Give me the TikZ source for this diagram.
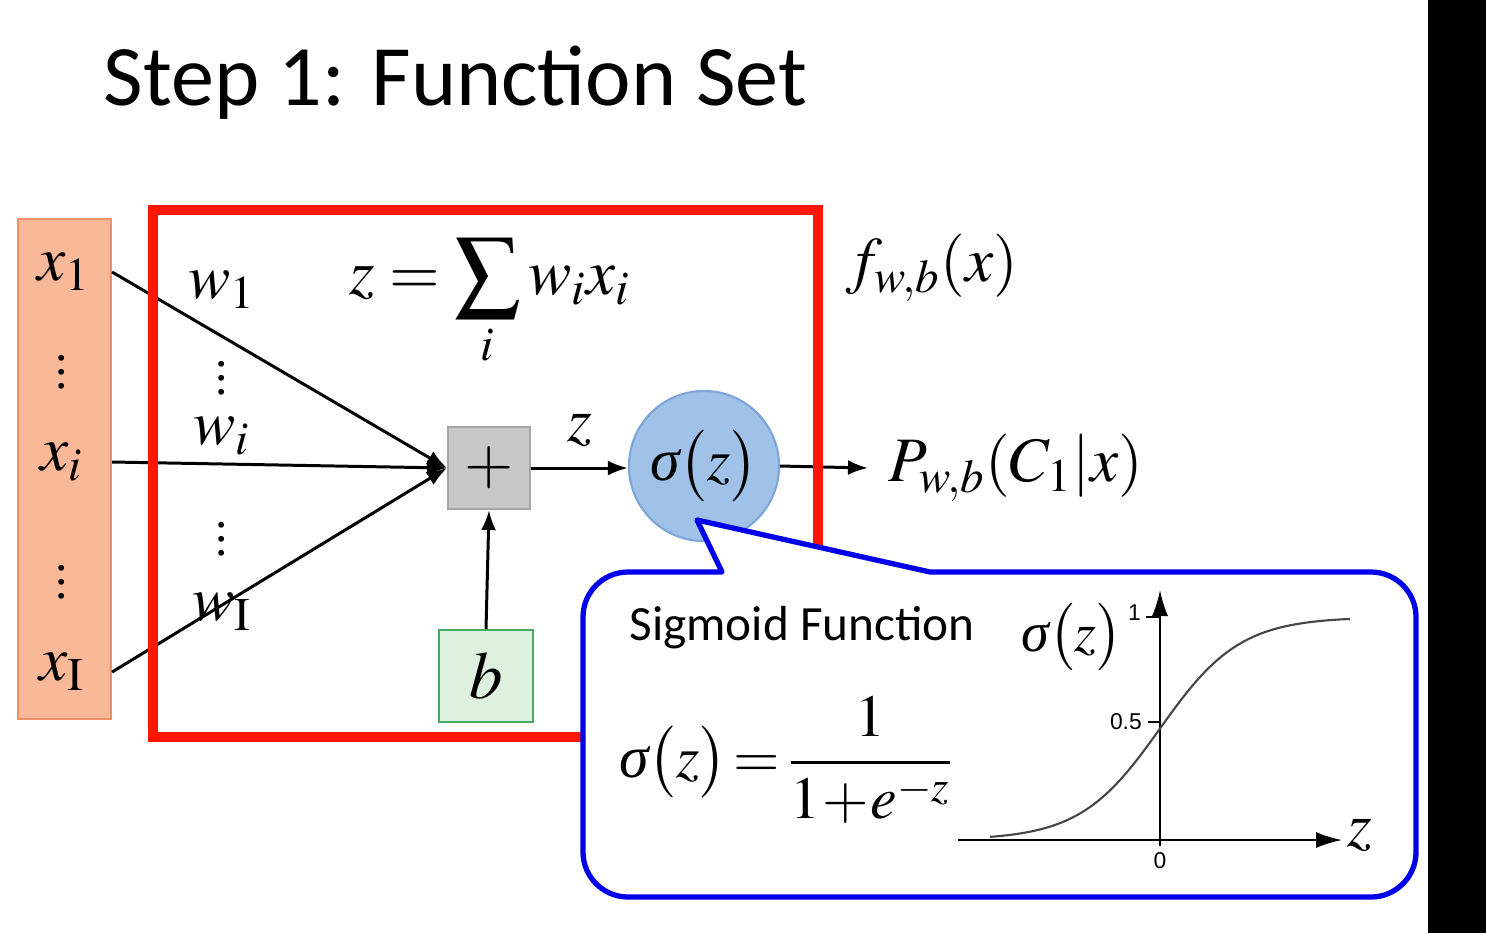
\documentclass[tikz,border=0pt]{standalone}
\usepackage{amsmath}
\usepackage{mathptmx}
\usepackage[no-math]{fontspec}
\setmainfont{Liberation Serif}
\newfontfamily\slidefont{Carlito}
\newfontfamily\plotfont{Liberation Sans}
\usetikzlibrary{positioning, arrows.meta, shapes.geometric, calc}

\definecolor{inorange}{RGB}{249,185,152}
\definecolor{inedge}{RGB}{238,145,105}
\definecolor{boxred}{RGB}{255,22,0}
\definecolor{sumgray}{RGB}{200,200,200}
\definecolor{sumedge}{RGB}{165,165,165}
\definecolor{sigblue}{RGB}{160,194,232}
\definecolor{sigedge}{RGB}{125,165,215}
\definecolor{biasgreen}{RGB}{222,240,222}
\definecolor{biasedge}{RGB}{70,170,95}
\definecolor{callblue}{RGB}{0,0,235}
\definecolor{curvegray}{RGB}{70,70,70}

% italic sigma from the text font
\newcommand{\sigit}{\text{\normalfont\itshape σ}}

\begin{document}
\begin{tikzpicture}[
    x=0.01cm, y=-0.01cm,
    >=Latex,
    lbl/.style={font=\fontsize{18}{20}\selectfont, inner sep=0pt},
    vdot/.style={font=\fontsize{14}{14}\selectfont, inner sep=0pt},
    title/.style={font=\slidefont\fontsize{24.5}{28}\selectfont, inner sep=0pt},
    caption/.style={font=\slidefont\fontsize{14}{17}\selectfont, inner sep=0pt},
    ticklbl/.style={font=\plotfont\fontsize{6.5}{8}\selectfont, inner sep=1pt},
    inbox/.style={rectangle, draw=inedge, fill=inorange, line width=0.6pt,
        minimum width=0.93cm, minimum height=5cm},
    sumbox/.style={rectangle, draw=sumedge, fill=sumgray, line width=0.6pt,
        minimum size=0.82cm, inner sep=0pt, font=\fontsize{18}{20}\selectfont},
    sigcircle/.style={circle, draw=sigedge, fill=sigblue, line width=0.6pt,
        minimum size=1.5cm, inner sep=0pt, font=\fontsize{17}{20}\selectfont},
    biasbox/.style={rectangle, draw=biasedge, fill=biasgreen, line width=0.6pt,
        minimum width=0.94cm, minimum height=0.92cm, font=\fontsize{19}{22}\selectfont},
    arrow/.style={-{Latex[length=2mm, width=1.5mm]}, line width=0.85pt},
    callout/.style={draw=callblue, fill=white, line width=1.5pt, line join=round},
    axis/.style={-{Latex[length=2.6mm, width=1.6mm]}, line width=0.6pt}
]

% page
\fill[white] (0,0) rectangle (1486,933);
\useasboundingbox (0,0) rectangle (1486,933);
\fill[black] (1428,0) rectangle (1486,933);

\node[title, anchor=base west] (title) at (103,105) {Step 1: Function Set};

% inputs
\node[inbox] (in) at (64.5,469) {};
\node[lbl] (x1) at (64,272) {$x_1$};
\node[vdot] (xd1) at (62,362) {$\vdots$};
\node[lbl] (xi) at (62,462) {$x_i$};
\node[vdot] (xd2) at (62,572) {$\vdots$};
\node[lbl] (xI) at (62,672) {$x_{\mathrm{I}}$};

% neuron
\node[sumbox] (plus) at (489,468) {$+$};
\node[sigcircle] (sig) at (704,466) {$\sigit\bigl(z\bigr)$};
\node[biasbox] (bias) at (486,676) {$b$};
\node[lbl, font=\fontsize{18.5}{20}\selectfont] (zsum) at (490,303) {$z=\displaystyle\sum_i w_i x_i$};

\node[lbl] (w1) at (222,290) {$w_1$};
\node[vdot] (wd1) at (222,368) {$\vdots$};
\node[lbl] (wi) at (222,436) {$w_i$};
\node[vdot] (wd2) at (222,529) {$\vdots$};
\node[lbl] (wI) at (222,612) {$w_{\mathrm{I}}$};

\node[lbl] (fwb) at (932,268) {$f_{w,b}(x)$};
\node[lbl, anchor=west] (pout) at (888,468) {$P_{w,b}(C_1|x)$};

\draw[arrow] (x1 -| in.east) -- (plus.west);
\draw[arrow] (xi -| in.east) -- (plus.west);
\draw[arrow] (xI -| in.east) -- (plus.west);
\draw[arrow] (plus.east) -- node[lbl, above=0.2cm] (zlbl) {$z$} (plus.east -| sig.west);
\draw[arrow] (bias.north) -- (plus.south);
\draw[arrow] (sig.east) -- ([xshift=-0.2cm]pout.west);

\draw[boxred, line width=2.9pt] (153,210) rectangle (818,737);

% sigmoid callout
\draw[callout] (697,520) -- (930,572) [rounded corners=0.45cm] -- (1416,572)
    -- (1416,897) -- (583,897) -- (583,572) [sharp corners] -- (722,572) -- cycle;

\node[caption] (sigtitle) at (802,628) {Sigmoid Function};
\node[lbl, font=\fontsize{17}{20}\selectfont] (sigdef) at (787,760)
    {$\sigit\bigl(z\bigr)\!=\!\dfrac{1}{1\!+\!e^{-z}}$};

\coordinate (origin) at (1160,840);
\draw[axis] (958,840) -- (1342,840) coordinate (xend);
\draw[axis] (origin) -- (1160,590) coordinate (yend);
\draw[line width=0.5pt] (1146,617) -- (1160,617);
\draw[line width=0.5pt] (1148,722) -- (1160,722);
\draw[line width=0.5pt] (origin) -- (1160,846);
\node[ticklbl, anchor=east] (tick1) at (1145,613) {1};
\node[ticklbl, anchor=east] (tick05) at (1146,722) {0.5};
\node[ticklbl, anchor=north] (tick0) at (1160,848) {0};
\draw[curvegray, line width=0.6pt] plot[domain=990:1350, samples=90]
    (\x, {840-223/(1+exp(-(\x-1160)/40))});
\node[lbl, font=\fontsize{16}{18}\selectfont] (sigax) at (1072,637) {$\sigit\bigl(z\bigr)$};
\node[lbl, font=\fontsize{18}{20}\selectfont] (zax) at (1360,835) {$z$};

\end{tikzpicture}
\end{document}
